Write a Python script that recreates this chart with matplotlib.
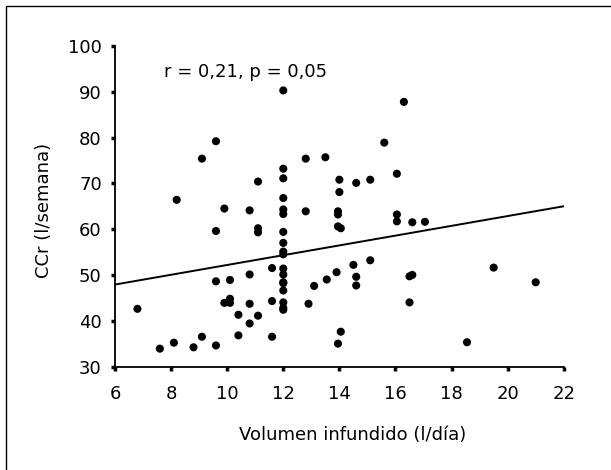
import matplotlib
matplotlib.use("Agg")
import matplotlib.pyplot as plt
from matplotlib.patches import Rectangle

plt.rcParams['font.family'] = ['DejaVu Sans']

# Volumen infundido (l/dia) vs CCr (l/semana)
vol = [6.8, 7.6, 8.1, 8.2, 8.8, 9.1, 9.1, 9.6, 9.6, 9.6, 9.6,
       9.9, 9.9, 10.1, 10.1, 10.1, 10.4, 10.4, 10.8, 10.8, 10.8, 10.8,
       11.1, 11.1, 11.1, 11.1, 11.6, 11.6, 11.6,
       12, 12, 12, 12, 12, 12, 12, 12, 12, 12, 12, 12, 12, 12, 12, 12, 12, 12,
       12.8, 12.8, 12.9, 13.1, 13.5, 13.55, 13.9,
       14.0, 14.0, 13.95, 13.95, 13.95, 14.05, 14.05, 13.95,
       14.5, 14.6, 14.6, 14.6, 15.1, 15.1, 15.6,
       16.05, 16.05, 16.05, 16.3, 16.5, 16.6, 16.5, 16.6, 17.05,
       18.55, 19.5, 21.0]
ccr = [42.6, 33.9, 35.2, 66.4, 34.2, 36.5, 75.4, 79.2, 59.6, 48.6, 34.6,
       64.5, 43.9, 48.9, 44.8, 43.9, 41.3, 36.8, 64.1, 50.1, 43.7, 39.4,
       70.4, 60.2, 59.3, 41.1, 51.5, 44.3, 36.5,
       90.3, 73.2, 71.1, 66.8, 64.3, 63.3, 59.4, 57.0, 55.1, 54.5, 51.4, 50.1,
       48.4, 48.2, 46.6, 44.0, 42.8, 42.4,
       75.4, 63.9, 43.7, 47.6, 75.7, 49.0, 50.6,
       70.8, 68.1, 63.9, 63.2, 60.6, 60.2, 37.6, 35.0,
       52.2, 70.1, 49.6, 47.7, 70.8, 53.2, 78.9,
       72.1, 63.2, 61.7, 87.8, 49.7, 50.0, 44.0, 61.5, 61.6,
       35.3, 51.6, 48.4]

# regression line end points
fit_x = [6, 22]
fit_y = [47.9, 65.0]

xticks = [6, 8, 10, 12, 14, 16, 18, 20, 22]
yticks = [30, 40, 50, 60, 70, 80, 90, 100]

fig = plt.figure(figsize=(6.11, 4.70), dpi=100)
ax = fig.add_axes([0.1882, 0.2202, 0.7345, 0.6819])

ax.plot(fit_x, fit_y, color='black', lw=1.4, zorder=2)
ax.scatter(vol, ccr, s=34, color='black', edgecolors='none', zorder=3)

ax.set_xlim(6, 22)
ax.set_ylim(30, 100)
ax.set_xticks(xticks)
ax.set_yticks(yticks)
ax.tick_params(direction='out', length=3, width=2.5, labelsize=13, color='black')
ax.tick_params(axis='y', pad=6.5)
ax.tick_params(axis='x', pad=10)

for side in ['top', 'right']:
    ax.spines[side].set_visible(False)
for side in ['left', 'bottom']:
    ax.spines[side].set_linewidth(1.3)

ax.set_xlabel('Volumen infundido (l/día)', fontsize=13)
ax.xaxis.set_label_coords(0.53, -0.187)
ax.set_ylabel('CCr (l/semana)', fontsize=13)
ax.yaxis.set_label_coords(-0.138, 0.488)

ax.text(7.75, 93.2, 'r = 0,21, p = 0,05', fontsize=13, va='baseline', ha='left')

# outer frame of the figure
fig.patches.append(Rectangle((5.7 / 611, -0.05), 1.1, 1.05 - 5.7 / 470,
                             transform=fig.transFigure, fill=False,
                             edgecolor='black', lw=1.0, clip_on=False))

fig.savefig('out.png', dpi=100)
